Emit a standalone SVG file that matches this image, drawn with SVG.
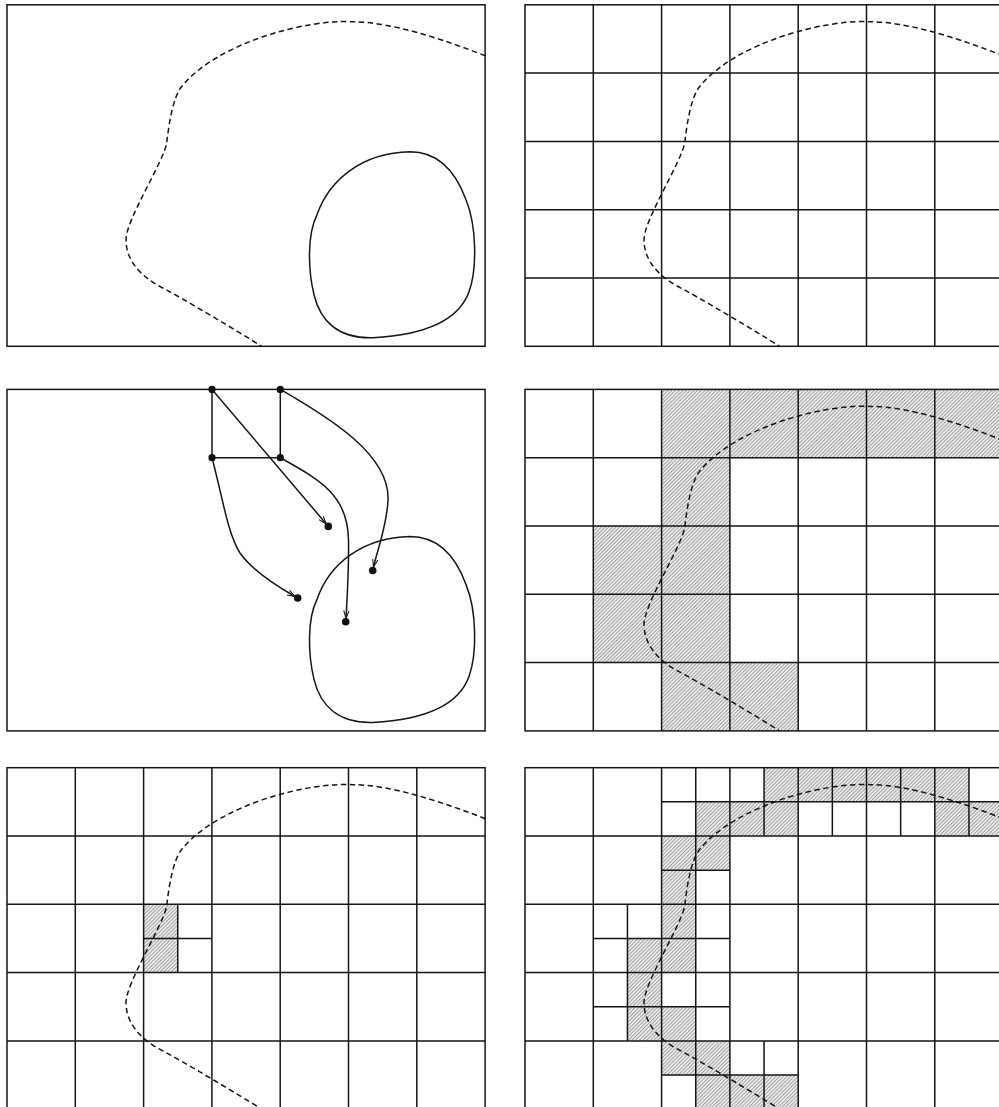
<svg xmlns="http://www.w3.org/2000/svg" width="999" height="1107" viewBox="0 0 999 1107">
<style>
.ln{fill:none;stroke:#151515;stroke-width:1.5}
.dash{fill:none;stroke:#151515;stroke-width:1.5;stroke-dasharray:5.5 3.5}
.hat{fill:url(#hatch);stroke:none}
.edge{fill:none;stroke:#151515;stroke-width:1.5}
.dot{fill:#111}
</style>
<defs>
<pattern id="hatch" patternUnits="userSpaceOnUse" width="2.6" height="2.6" patternTransform="rotate(45)">
<rect width="2.6" height="2.6" fill="#f1f1f1"/>
<line x1="0.6" y1="0" x2="0.6" y2="2.6" stroke="#858585" stroke-width="0.8"/>
</pattern>
<marker id="arr" viewBox="0 0 10 8" refX="10" refY="4" markerWidth="8" markerHeight="6.4" markerUnits="userSpaceOnUse" orient="auto">
<path d="M0,0.6 L10,4 L0,7.4" fill="none" stroke="#111" stroke-width="1.3"/>
</marker>
<path id="curve" class="dash" d="M478.3,51 C440,36 385,17 346,17 C300,14 210,38 174.7,81.7 C166,92.6 162,118 159.7,138.3 C156,158 119,215 119,235 C119,255 133,271 153,281.7 C173,292 230,326 254.7,341.5"/>
<path id="blob" class="ln" d="M403,147 C430,147 448,165 459,195 C470,222 470,265 462,287 C452,315 420,330 366,333 C330,334 313,315 307,290 C301,265 300,230 310,210 C322,175 355,148 403,147 Z"/>
<g id="grid">
<rect class="ln" x="0" y="0" width="478.1" height="341.5"/>
<path class="ln" d="M68.3,0V341.5M136.6,0V341.5M204.9,0V341.5M273.2,0V341.5M341.5,0V341.5M409.8,0V341.5M0,68.3H478.1M0,136.6H478.1M0,204.9H478.1M0,273.2H478.1"/>
</g>
</defs>
<rect width="999" height="1107" fill="#fff"/>

<g id="panel1" transform="translate(7,4.8)">
<rect class="ln" x="0" y="0" width="478.1" height="341.5"/>
<use href="#curve"/>
<use href="#blob"/>
</g>

<g id="panel2" transform="translate(525,4.8)">
<use href="#grid"/>
<use href="#curve"/>
</g>

<g id="panel3" transform="translate(7,389.4)">
<rect class="ln" x="0" y="0" width="478.1" height="341.5"/>
<use href="#blob"/>
</g>
<g id="connectors">
<path class="edge" d="M212,389.4 V457.7 H280.3 V389.4"/>
<path class="edge" marker-end="url(#arr)" d="M212,389.4 L326.3,524"/>
<path class="edge" marker-end="url(#arr)" d="M280.3,389.4 C330,418 390,455 388,500 C387,525 378,548 373.5,567"/>
<path class="edge" marker-end="url(#arr)" d="M280.3,457.7 C320,480 348,495 348.5,540 C349,570 347,600 346,618.5"/>
<path class="edge" marker-end="url(#arr)" d="M212,457.7 C222,495 228,535 240,553 C252,570 275,585 295,596.5"/>
</g>
<g id="nodeA"><circle class="dot" cx="212" cy="389.4" r="3.6"/></g>
<g id="nodeB"><circle class="dot" cx="280.3" cy="389.4" r="3.6"/></g>
<g id="nodeC"><circle class="dot" cx="212" cy="457.7" r="3.6"/></g>
<g id="nodeD"><circle class="dot" cx="280.3" cy="457.7" r="3.6"/></g>
<g id="nodeE"><circle class="dot" cx="328.3" cy="526.4" r="3.8"/></g>
<g id="nodeF"><circle class="dot" cx="372.7" cy="570.5" r="3.8"/></g>
<g id="nodeG"><circle class="dot" cx="297.7" cy="598" r="3.8"/></g>
<g id="nodeH"><circle class="dot" cx="345.7" cy="621.7" r="3.8"/></g>

<g id="panel4" transform="translate(525,389.4)">
<rect class="hat" x="136.6" y="0" width="341.5" height="68.3"/>
<rect class="hat" x="136.6" y="68.3" width="68.3" height="68.3"/>
<rect class="hat" x="68.3" y="136.6" width="136.6" height="136.6"/>
<rect class="hat" x="136.6" y="273.2" width="136.6" height="68.3"/>
<use href="#grid"/>
<use href="#curve"/>
</g>

<g id="panel5" transform="translate(7,767.7)">
<rect class="hat" x="136.6" y="136.6" width="34.15" height="68.3"/>
<use href="#grid"/>
<path class="ln" d="M136.6,170.75H204.9M170.75,136.6V204.9"/>
<use href="#curve"/>
</g>

<g id="panel6" transform="translate(525,767.7)">
<rect class="hat" x="239.05" y="0" width="204.9" height="34.15"/>
<rect class="hat" x="170.75" y="34.15" width="102.45" height="34.15"/>
<rect class="hat" x="409.8" y="34.15" width="68.3" height="34.15"/>
<rect class="hat" x="136.6" y="68.3" width="68.3" height="34.15"/>
<rect class="hat" x="136.6" y="102.45" width="34.15" height="34.15"/>
<rect class="hat" x="136.6" y="136.6" width="34.15" height="34.15"/>
<rect class="hat" x="102.45" y="170.75" width="68.3" height="34.15"/>
<rect class="hat" x="102.45" y="204.9" width="34.15" height="68.3"/>
<rect class="hat" x="136.6" y="239.05" width="34.15" height="34.15"/>
<rect class="hat" x="136.6" y="273.2" width="68.3" height="34.15"/>
<rect class="hat" x="170.75" y="307.35" width="102.45" height="34.15"/>
<use href="#grid"/>
<path class="ln" d="M136.6,34.15H478.1M136.6,102.45H204.9M68.3,170.75H204.9M68.3,239.05H204.9M136.6,307.35H273.2M170.75,0V341.5M102.45,136.6V273.2M239.05,0V68.3M239.05,273.2V341.5M307.35,0V68.3M375.65,0V68.3M443.95,0V68.3"/>
<use href="#curve"/>
</g>
</svg>
